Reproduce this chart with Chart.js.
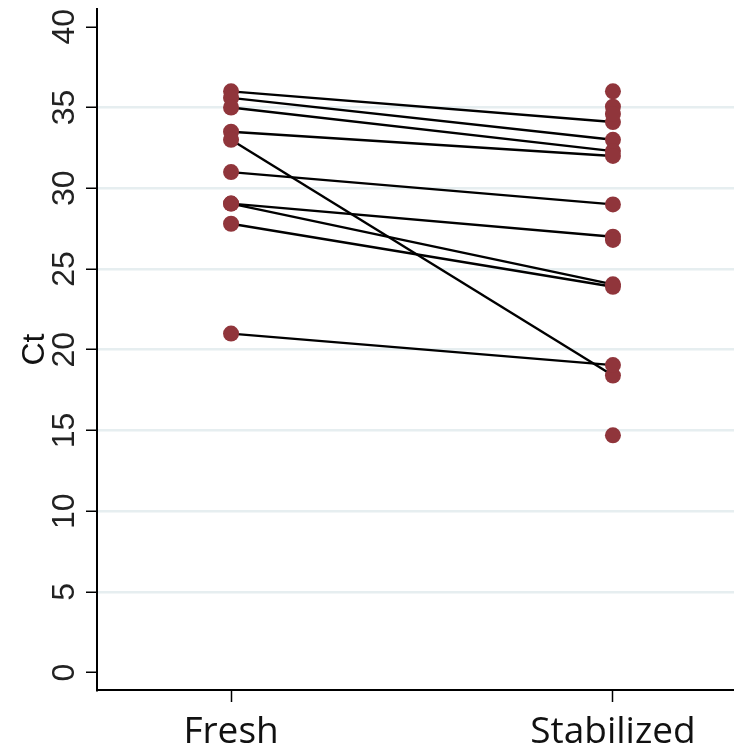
<!DOCTYPE html>
<html>
<head>
<meta charset="utf-8">
<script src="https://cdn.jsdelivr.net/npm/chart.js@4/dist/chart.umd.min.js"></script>
<style>
  body { margin: 0; background: #fff; }
  canvas { display: block; }
</style>
</head>
<body>
<canvas id="ctChart" width="734" height="751"></canvas>
<script>
// paired samples: fresh Ct -> stabilized Ct
const categories = ["Fresh", "Stabilized"];
const freshCt = [36.0, 35.6, 35.0, 33.5, 33.0, 31.0, 29.05, 29.05, 27.8, 21.0];
const stabilizedCt = [34.1, 33.0, 32.3, 32.0, 18.4, 29.0, 27.0, 24.05, 23.9, 19.05];
// stabilized samples without a fresh partner
const stabilizedOnly = [36.0, 35.05, 34.6, 26.8, 14.7];
const yTicks = [0, 5, 10, 15, 20, 25, 30, 35, 40];

const dotColor = "#90353b";

const datasets = freshCt.map((f, i) => ({
    data: [{ x: 1, y: f }, { x: 2, y: stabilizedCt[i] }],
    showLine: true,
    borderColor: "#000",
    borderWidth: 2.4,
    pointRadius: 0,
    order: 2
}));

datasets.push({
    data: [
        ...freshCt.map(v => ({ x: 1, y: v })),
        ...stabilizedCt.map(v => ({ x: 2, y: v })),
        ...stabilizedOnly.map(v => ({ x: 2, y: v }))
    ],
    showLine: false,
    pointRadius: 8,
    pointBackgroundColor: dotColor,
    pointBorderWidth: 0,
    order: 1
});

// y tick labels are rotated in the original, draw them ourselves
const rotatedYLabels = {
    id: "rotatedYLabels",
    afterDraw(c) {
        const y = c.scales.y;
        const ctx = c.ctx;
        ctx.save();
        ctx.font = "32px 'Liberation Sans', Arial, sans-serif";
        ctx.fillStyle = "#222";
        ctx.textAlign = "center";
        ctx.textBaseline = "middle";
        yTicks.forEach(v => {
            ctx.save();
            ctx.translate(65, y.getPixelForValue(v));
            ctx.rotate(-Math.PI / 2);
            ctx.fillText(String(v), 0, 0);
            ctx.restore();
        });
        ctx.restore();
    }
};

new Chart(document.getElementById("ctChart"), {
    type: "scatter",
    data: { datasets },
    options: {
        responsive: false,
        animation: false,
        layout: { autoPadding: false, padding: { top: 9, right: 0, left: 0, bottom: 0 } },
        plugins: {
            legend: { display: false },
            tooltip: { enabled: false }
        },
        scales: {
            x: {
                type: "linear",
                min: 0.649,
                max: 2.317,
                afterBuildTicks: s => { s.ticks = [{ value: 1 }, { value: 2 }]; },
                afterFit: s => {
                    s.height = 61;
                    s.paddingLeft = 0;
                    s.paddingRight = 0;
                },
                border: { color: "#000", width: 2 },
                grid: {
                    drawOnChartArea: false,
                    tickLength: 12,
                    tickColor: "#000",
                    tickWidth: 1.5
                },
                ticks: {
                    padding: 8,
                    color: "#111",
                    font: { family: "'Open Sans', 'Noto Sans', sans-serif", size: 37 },
                    callback: v => categories[v - 1]
                }
            },
            y: {
                min: -1.07,
                max: 41.1,
                afterBuildTicks: s => { s.ticks = yTicks.map(v => ({ value: v })); },
                afterFit: s => {
                    s.width = 97;
                    s.paddingTop = 0;
                    s.paddingBottom = 0;
                },
                border: { color: "#000", width: 2 },
                grid: {
                    color: ctx => (ctx.tick && (ctx.tick.value === 0 || ctx.tick.value === 40)) ? "rgba(0,0,0,0)" : "#e6eef0",
                    lineWidth: 2.5,
                    tickLength: 11,
                    tickColor: "#000",
                    tickWidth: 1.5
                },
                ticks: { display: false },
                title: {
                    display: true,
                    text: "Ct",
                    color: "#111",
                    font: { family: "'Liberation Sans', Arial, sans-serif", size: 32 },
                    padding: { top: 16, bottom: 0 }
                }
            }
        }
    },
    plugins: [rotatedYLabels]
});
</script>
</body>
</html>
